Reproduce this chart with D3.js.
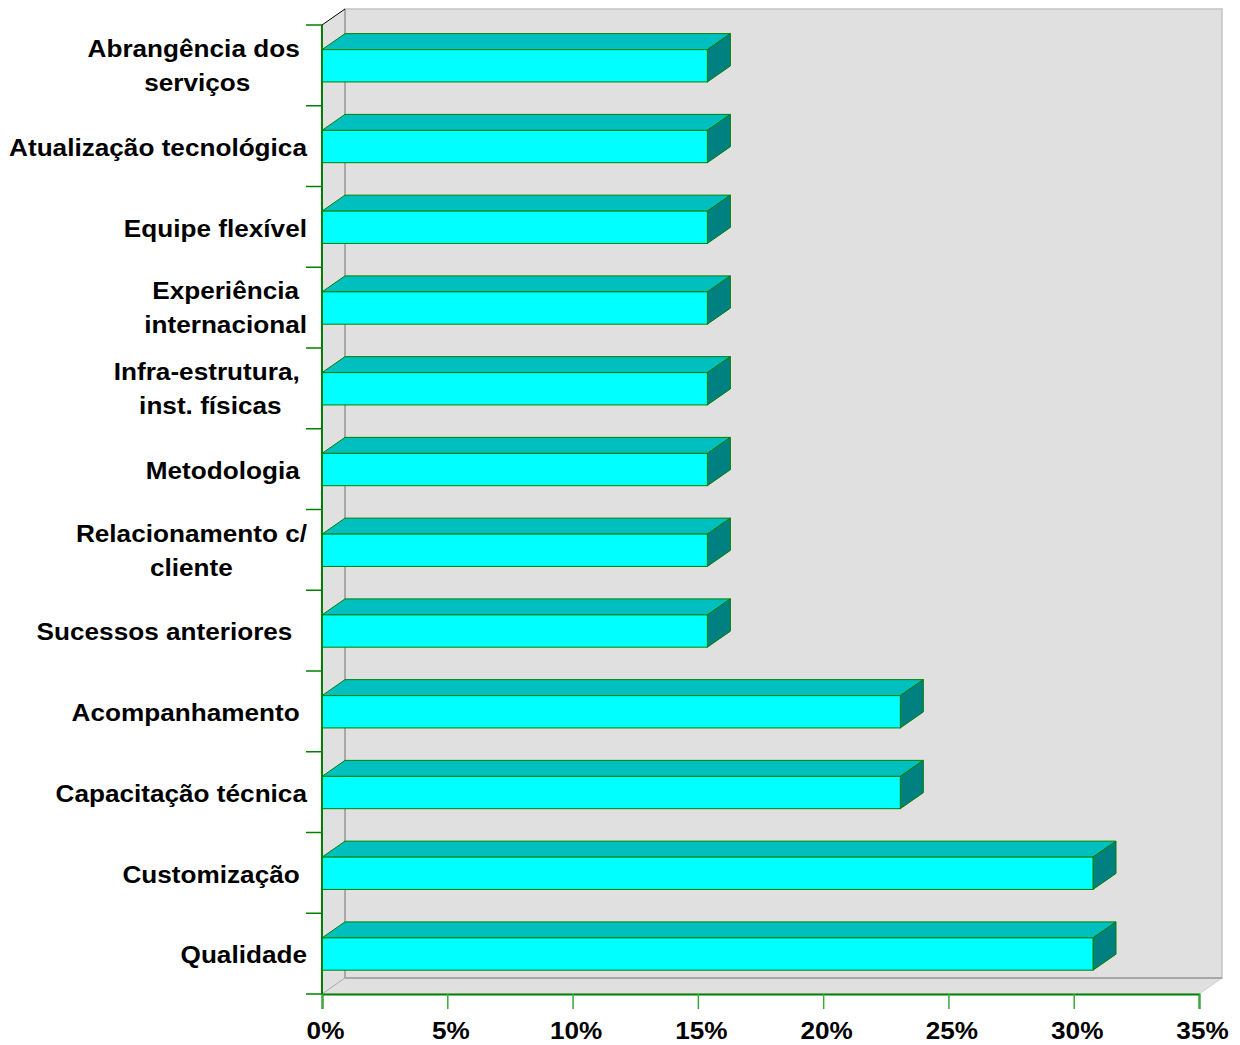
<!DOCTYPE html>
<html>
<head>
<meta charset="utf-8">
<script src="https://cdn.jsdelivr.net/npm/d3@7"></script>
<style>
  html, body { margin: 0; padding: 0; background: #ffffff; }
  svg { display: block; }
  text { font-family: "Liberation Sans", Arial, sans-serif; font-weight: bold; fill: #000; white-space: pre; }
</style>
</head>
<body>
<svg id="chart" width="1240" height="1045"></svg>
<script>
// Categories, top to bottom ("\n" marks a line break in the label)
const categories = [
  "Abrangência dos \nserviços",
  "Atualização tecnológica",
  "Equipe flexível",
  "Experiência\ninternacional",
  "Infra-estrutura, \ninst. físicas",
  "Metodologia ",
  "Relacionamento c/\ncliente",
  "Sucessos anteriores  ",
  "Acompanhamento ",
  "Capacitação técnica",
  "Customização ",
  "Qualidade"
];
// Share of respondents (%)
const values = [15.38, 15.38, 15.38, 15.38, 15.38, 15.38, 15.38, 15.38, 23.08, 23.08, 30.77, 30.77];
const xTicks = [0, 5, 10, 15, 20, 25, 30, 35];

(function () {
const svg = d3.select("#chart");

// Front plane of the plot and the 3D depth offset
const pLeft = 322, pRight = 1199, pTop = 25, pBottom = 994;
const dx = 23, dy = -16;

const x = d3.scaleLinear().domain([0, 35]).range([pLeft, pRight]);
const y = d3.scaleBand().domain(categories).range([pTop, pBottom]).paddingInner(0).paddingOuter(0);
const bw = y.bandwidth();

const wallFill = "#e0e0e0";

// Back wall
svg.append("rect")
  .attr("x", pLeft + dx).attr("y", pTop + dy)
  .attr("width", pRight - pLeft).attr("height", pBottom - pTop)
  .attr("fill", wallFill).attr("stroke", "#c4c4c4").attr("stroke-width", 1.5);

// Left side wall
svg.append("polygon")
  .attr("points", [[pLeft, pTop], [pLeft + dx, pTop + dy], [pLeft + dx, pBottom + dy], [pLeft, pBottom]].join(" "))
  .attr("fill", wallFill);

// Floor
svg.append("polygon")
  .attr("points", [[pLeft, pBottom], [pLeft + dx, pBottom + dy], [pRight + dx, pBottom + dy], [pRight, pBottom]].join(" "))
  .attr("fill", wallFill).attr("stroke", "#cfcfcf").attr("stroke-width", 1);

// Inner edges of the walls
svg.append("line")
  .attr("x1", pLeft + dx).attr("y1", pTop + dy).attr("x2", pLeft + dx).attr("y2", pBottom + dy)
  .attr("stroke", "#a8a8a8").attr("stroke-width", 2);
svg.append("line")
  .attr("x1", pLeft + dx).attr("y1", pBottom + dy).attr("x2", pRight + dx).attr("y2", pBottom + dy)
  .attr("stroke", "#a8a8a8").attr("stroke-width", 2);
svg.append("line")
  .attr("x1", pLeft).attr("y1", pBottom).attr("x2", pLeft + dx).attr("y2", pBottom + dy)
  .attr("stroke", "#b0b0b0").attr("stroke-width", 1);
svg.append("line")
  .attr("x1", pLeft).attr("y1", pTop).attr("x2", pLeft + dx).attr("y2", pTop + dy)
  .attr("stroke", "#000").attr("stroke-width", 1);

// 3D bars
const barOff = bw * 0.305, barH = bw * 0.40;
const green = "#008000";
const bars = svg.append("g").selectAll("g.bar")
  .data(categories.map((c, i) => ({ c, v: values[i] })))
  .join("g").attr("class", "bar");

bars.append("polygon") // top face
  .attr("points", d => {
    const x0 = x(0), x1 = x(d.v), y0 = y(d.c) + barOff;
    return [[x0, y0], [x0 + dx, y0 + dy], [x1 + dx, y0 + dy], [x1, y0]].join(" ");
  })
  .attr("fill", "#00bfbf").attr("stroke", green).attr("stroke-width", 1).attr("stroke-linejoin", "round");

bars.append("polygon") // end face
  .attr("points", d => {
    const x1 = x(d.v), y0 = y(d.c) + barOff;
    return [[x1, y0], [x1 + dx, y0 + dy], [x1 + dx, y0 + barH + dy], [x1, y0 + barH]].join(" ");
  })
  .attr("fill", "#008080").attr("stroke", green).attr("stroke-width", 1).attr("stroke-linejoin", "round");

bars.append("rect") // front face
  .attr("x", x(0)).attr("y", d => y(d.c) + barOff)
  .attr("width", d => x(d.v) - x(0)).attr("height", barH)
  .attr("fill", "#00ffff").attr("stroke", green).attr("stroke-width", 1);

// Category axis: line plus ticks at band boundaries
const boundaries = categories.map(c => y(c)).concat([pBottom]);
svg.append("line")
  .attr("x1", pLeft).attr("y1", pTop).attr("x2", pLeft).attr("y2", pBottom)
  .attr("stroke", green).attr("stroke-width", 2);
svg.append("g").selectAll("line")
  .data(boundaries).join("line")
  .attr("x1", pLeft - 16).attr("x2", pLeft).attr("y1", d => d).attr("y2", d => d)
  .attr("stroke", green).attr("stroke-width", 1.5);

// Category labels: lines centred on each other, block right-aligned.
// The typeface is drawn slightly widened horizontally.
const labelRight = 307, fs = 24, sx = 1.09, lineGap = 34;
const lab = svg.append("g").selectAll("g.lab")
  .data(categories).join("g").attr("class", "lab");
lab.each(function (c) {
  const g = d3.select(this);
  const lines = c.split("\n");
  const cy = y(c) + bw / 2 + (lines.length === 1 ? 1 : 0);
  const texts = lines.map((ln, i) => g.append("text")
    .attr("font-size", fs)
    .attr("text-anchor", "middle")
    .attr("dy", "0.36em")
    .datum(cy + (i - (lines.length - 1) / 2) * lineGap)
    .text(ln));
  const maxW = d3.max(texts, t => t.node().getComputedTextLength()) * sx;
  texts.forEach(t => t.attr("transform", ty => `translate(${labelRight - maxW / 2},${ty}) scale(${sx},1)`));
});

// Value axis
const xAxis = d3.axisBottom(x).tickValues(xTicks).tickSize(15).tickFormat(d => d + "%");
const gx = svg.append("g").attr("transform", `translate(0,${pBottom})`).call(xAxis);
gx.select(".domain").attr("stroke", green).attr("stroke-width", 2);
gx.selectAll(".tick line").attr("stroke", "#3aa83a").attr("stroke-width", 1.5);
gx.selectAll(".tick text")
  .attr("font-size", fs).attr("font-family", "'Liberation Sans', Arial, sans-serif")
  .attr("font-weight", "bold").attr("fill", "#000")
  .attr("x", null).attr("y", null).attr("dy", 0)
  .attr("transform", `translate(3,45) scale(${sx},1)`);
})();
</script>
</body>
</html>
